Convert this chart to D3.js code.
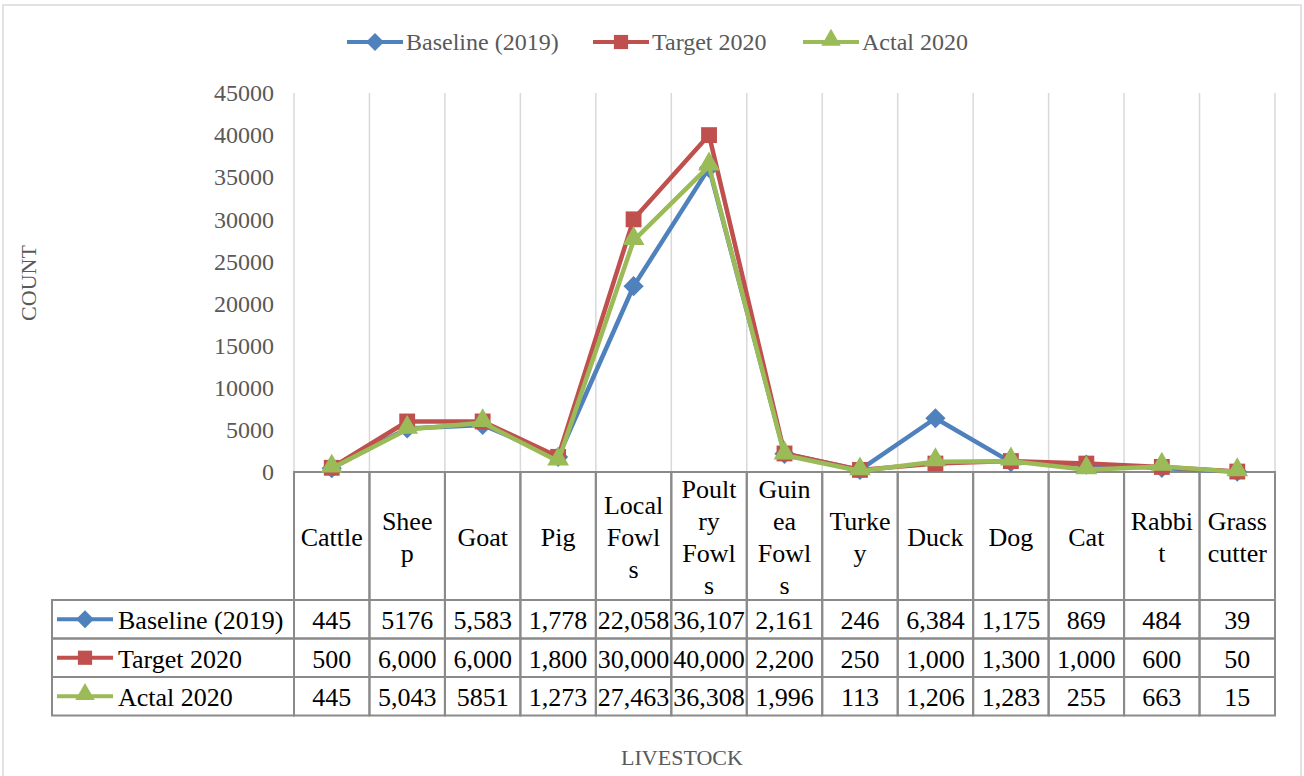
<!DOCTYPE html>
<html>
<head>
<meta charset="utf-8">
<script src="https://cdn.jsdelivr.net/npm/d3@7"></script>
<style>
  body { margin: 0; background: #fff; }
  text { font-family: "Liberation Serif", "Times New Roman", serif; }
</style>
</head>
<body>
<div id="chart"></div>
<script>
var categories = ["Cattle", "Sheep", "Goat", "Pig", "Local Fowls", "Poultry Fowls", "Guinea Fowls", "Turkey", "Duck", "Dog", "Cat", "Rabbit", "Grasscutter"]
// header text as Excel wraps it in the data table
var headerLines = [["Cattle"], ["Shee", "p"], ["Goat"], ["Pig"], ["Local", "Fowl", "s"], ["Poult", "ry", "Fowl", "s"], ["Guin", "ea", "Fowl", "s"], ["Turke", "y"], ["Duck"], ["Dog"], ["Cat"], ["Rabbi", "t"], ["Grass", "cutter"]]
var seriesNames = ["Baseline (2019)", "Target 2020", "Actal 2020"]
var baseline = [445, 5176, 5583, 1778, 22058, 36107, 2161, 246, 6384, 1175, 869, 484, 39]
var target = [500, 6000, 6000, 1800, 30000, 40000, 2200, 250, 1000, 1300, 1000, 600, 50]
var actual = [445, 5043, 5851, 1273, 27463, 36308, 1996, 113, 1206, 1283, 255, 663, 15]
// cell text exactly as printed in the table
var baselineLabels = ["445", "5176", "5,583", "1,778", "22,058", "36,107", "2,161", "246", "6,384", "1,175", "869", "484", "39"]
var targetLabels = ["500", "6,000", "6,000", "1,800", "30,000", "40,000", "2,200", "250", "1,000", "1,300", "1,000", "600", "50"]
var actualLabels = ["445", "5,043", "5851", "1,273", "27,463", "36,308", "1,996", "113", "1,206", "1,283", "255", "663", "15"]
var yTicks = [0, 5000, 10000, 15000, 20000, 25000, 30000, 35000, 40000, 45000]

var colors = ["#4f81bd", "#c0504d", "#9bbb59"]
var symbols = [d3.symbolDiamond2, d3.symbolSquare2, d3.symbolTriangle2]
var symSize = [260, 320, 340]

var series = seriesNames.map(function(name, i) {
  return {name: name, values: [baseline, target, actual][i], labels: [baselineLabels, targetLabels, actualLabels][i], color: colors[i], symbol: symbols[i], size: symSize[i]}
})

var W = 1304, H = 776
var plot = {left: 294, right: 1275, top: 93, bottom: 472}
var rowTop = 600, rowH = 38.5, tableLeft = 52

var svg = d3.select("#chart").append("svg").attr("width", W).attr("height", H)

// chart border
svg.append("rect").attr("x", 3).attr("y", 5).attr("width", W - 6).attr("height", H + 10)
  .attr("fill", "none").attr("stroke", "#d9d9d9").attr("stroke-width", 1.5)

var x = d3.scaleBand().domain(categories).range([plot.left, plot.right])
var y = d3.scaleLinear().domain([0, 45000]).range([plot.bottom, plot.top])

// vertical gridlines at category edges
var edges = categories.map(function(c) { return x(c) }).concat([plot.right])
svg.selectAll(".vgrid").data(edges).enter().append("line")
  .attr("x1", function(d) { return d }).attr("x2", function(d) { return d })
  .attr("y1", plot.top).attr("y2", plot.bottom)
  .attr("stroke", "#d9d9d9").attr("stroke-width", 1.5)

// y axis labels
var yAxis = svg.append("g").attr("transform", "translate(" + plot.left + ",0)")
  .call(d3.axisLeft(y).tickValues(yTicks).tickSize(0).tickPadding(20).tickFormat(d3.format("d")))
yAxis.select(".domain").remove()
yAxis.selectAll("text").style("font-family", "Liberation Serif").style("font-size", "24px").attr("fill", "#595959")

// x axis line
svg.append("line").attr("x1", plot.left).attr("x2", plot.right).attr("y1", plot.bottom).attr("y2", plot.bottom)
  .attr("stroke", "#898989").attr("stroke-width", 2)

// data table
var table = svg.append("g")
var borderColor = "#8a8a8a"
var cellFont = "26px"
table.selectAll(".hcell").data(categories).enter().append("rect")
  .attr("x", function(d) { return x(d) }).attr("y", plot.bottom)
  .attr("width", x.bandwidth()).attr("height", rowTop - plot.bottom)
  .attr("fill", "none").attr("stroke", borderColor).attr("stroke-width", 2)
categories.forEach(function(c, i) {
  var lines = headerLines[i]
  var lh = 32
  var cy = (plot.bottom + rowTop) / 2 + 1
  var y0 = cy - (lines.length - 1) * lh / 2
  table.append("text").attr("x", x(c) + x.bandwidth() / 2).attr("text-anchor", "middle")
    .style("font-size", cellFont).attr("fill", "#000")
    .selectAll("tspan").data(lines).enter().append("tspan")
    .attr("x", x(c) + x.bandwidth() / 2)
    .attr("y", function(d, j) { return y0 + j * lh })
    .attr("dy", "0.35em")
    .text(function(d) { return d })
})

series.forEach(function(s, r) {
  var top = rowTop + r * rowH
  table.append("rect").attr("x", tableLeft).attr("y", top).attr("width", plot.left - tableLeft).attr("height", rowH)
    .attr("fill", "none").attr("stroke", borderColor).attr("stroke-width", 2)
  table.selectAll(".cell" + r).data(categories).enter().append("rect")
    .attr("x", function(d) { return x(d) }).attr("y", top)
    .attr("width", x.bandwidth()).attr("height", rowH)
    .attr("fill", "none").attr("stroke", borderColor).attr("stroke-width", 2)
  table.selectAll(".val" + r).data(categories).enter().append("text")
    .attr("x", function(d) { return x(d) + x.bandwidth() / 2 })
    .attr("y", top + rowH / 2 + 1).attr("dy", "0.35em").attr("text-anchor", "middle")
    .style("font-size", cellFont).attr("fill", "#000")
    .text(function(d, i) { return s.labels[i] })
  // legend key in row header
  var ky = top + rowH / 2
  table.append("line").attr("x1", 57).attr("x2", 113).attr("y1", ky).attr("y2", ky)
    .attr("stroke", s.color).attr("stroke-width", 4)
  table.append("path").attr("d", d3.symbol().type(s.symbol).size(s.size * 0.8))
    .attr("transform", "translate(85," + (ky - (s.symbol === d3.symbolTriangle2 ? 2 : 0)) + ")").attr("fill", s.color)
  table.append("text").attr("x", 118).attr("y", ky + 1).attr("dy", "0.35em")
    .style("font-size", cellFont).attr("fill", "#000").text(s.name)
})

// lines
var line = d3.line()
  .x(function(d, i) { return x(categories[i]) + x.bandwidth() / 2 })
  .y(function(d) { return y(d) })

series.forEach(function(s) {
  var g = svg.append("g")
  g.append("path").datum(s.values).attr("d", line)
    .attr("fill", "none").attr("stroke", s.color).attr("stroke-width", 4.5).attr("stroke-linejoin", "round")
  g.selectAll("path.m").data(s.values).enter().append("path").attr("class", "m")
    .attr("d", d3.symbol().type(s.symbol).size(s.size))
    .attr("transform", function(d, i) {
      var tx = x(categories[i]) + x.bandwidth() / 2, ty = y(d)
      if (s.symbol === d3.symbolTriangle2) ty -= 2
      return "translate(" + tx + "," + ty + ")"
    })
    .attr("fill", s.color)
})

// top legend
var legX = [347, 593, 803]
var leg = svg.append("g")
series.forEach(function(s, i) {
  var lx = legX[i], ly = 42
  leg.append("line").attr("x1", lx).attr("x2", lx + 56).attr("y1", ly).attr("y2", ly)
    .attr("stroke", s.color).attr("stroke-width", 4)
  leg.append("path").attr("d", d3.symbol().type(s.symbol).size(s.size * 0.8))
    .attr("transform", "translate(" + (lx + 28) + "," + (ly - (s.symbol === d3.symbolTriangle2 ? 2 : 0)) + ")").attr("fill", s.color)
  leg.append("text").attr("x", lx + 59).attr("y", ly).attr("dy", "0.35em")
    .style("font-size", "24px").attr("fill", "#595959").text(s.name)
})

// axis titles
svg.append("text").attr("transform", "translate(36,283) rotate(-90)").attr("text-anchor", "middle")
  .style("font-size", "22px").attr("fill", "#595959").text("COUNT")
svg.append("text").attr("x", 682).attr("y", 757).attr("dy", "0.35em").attr("text-anchor", "middle")
  .style("font-size", "22px").attr("fill", "#595959").text("LIVESTOCK")
</script>
</body>
</html>
